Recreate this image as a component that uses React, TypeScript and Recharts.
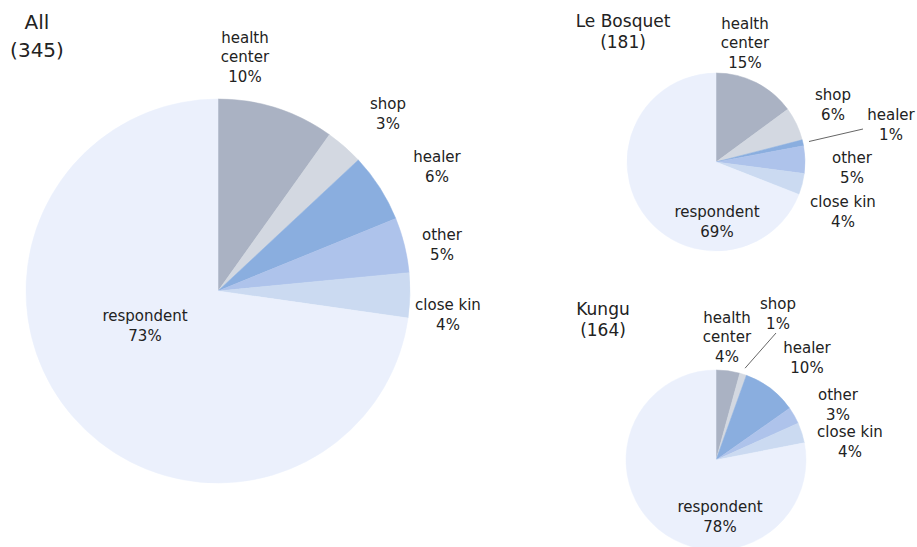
import React from 'react';
import { PieChart, Pie, Cell } from 'recharts';

// categories in drawing order (clockwise from 12 o'clock)
const categories = ['health center', 'shop', 'healer', 'other', 'close kin', 'respondent'];
const labelNames = [['health', 'center'], ['shop'], ['healer'], ['other'], ['close kin'], ['respondent']];

// estimated counts per source of advice
const allCounts = [34, 11, 20, 16, 13, 251];
const bosquetCounts = [27, 11, 2, 9, 7, 125];
const kunguCounts = [7, 2, 16, 5, 6, 128];

const colors = ['#aab2c3', '#d3d8e1', '#8aaedf', '#aec3eb', '#cbdaf1', '#ebf0fc'];

// label block centres, relative to each pie centre
const allLabelPos = [[27, -234], [170, -177], [219, -124], [224, -46], [230, 24], [-73, 35]];
const bosquetLabelPos = [[29, -119], [117, -57], [175, -37], [136, 6], [127, 50], [1, 60]];
const kunguLabelPos = [[11, -123], [62, -146], [91, -102], [122, -55], [134, -18], [4, 57]];

// leader line end points for the tiny slices
const bosquetLeaders = { 2: [147, -33] };
const kunguLeaders = { 1: [60, -127] };

const RADIAN = Math.PI / 180;
const FONT = '"DejaVu Sans", Verdana, sans-serif';
const LINE_H = 19.5;

const toRows = (counts: number[]) => categories.map((name, i) => ({ name, value: counts[i] }));

const makeLabel = (pos: number[][], leaders: Record<number, number[]>) => (props: any) => {
  const { cx, cy, index, percent, midAngle, outerRadius } = props;
  const [dx, dy] = pos[index];
  const lines = [...labelNames[index], `${Math.round(percent * 100)}%`];
  const x = cx + dx;
  const y0 = cy + dy - ((lines.length - 1) * LINE_H) / 2;
  const leader = leaders[index];
  let line = null;
  if (leader) {
    const r = outerRadius * 1.07;
    const sx = cx + r * Math.cos(-midAngle * RADIAN);
    const sy = cy + r * Math.sin(-midAngle * RADIAN);
    line = <line x1={sx} y1={sy} x2={cx + leader[0]} y2={cy + leader[1]} stroke="#666" strokeWidth={1} />;
  }
  return (
    <g>
      {line}
      <text x={x} y={y0} textAnchor="middle" dominantBaseline="central" fill="#222" fontSize={15} fontFamily={FONT}>
        {lines.map((t, i) => (
          <tspan key={i} x={x} y={y0 + i * LINE_H}>{t}</tspan>
        ))}
      </text>
    </g>
  );
};

const titleStyle = (cx: number, top: number, size: number, lh: number): React.CSSProperties => ({
  position: 'absolute',
  left: cx - 70,
  top,
  width: 140,
  textAlign: 'center',
  fontFamily: FONT,
  fontSize: size,
  lineHeight: `${lh}px`,
  color: '#222',
});

const App: React.FC = () => {
  const pies = [
    { key: 'all', data: toRows(allCounts), cx: 218, cy: 291, r: 192, label: makeLabel(allLabelPos, {}) },
    { key: 'bosquet', data: toRows(bosquetCounts), cx: 716, cy: 162, r: 89, label: makeLabel(bosquetLabelPos, bosquetLeaders) },
    { key: 'kungu', data: toRows(kunguCounts), cx: 716, cy: 460, r: 90, label: makeLabel(kunguLabelPos, kunguLeaders) },
  ];

  return (
    <div style={{ position: 'absolute', left: 0, top: 0, width: 917, height: 547, background: '#fff' }}>
      <PieChart width={917} height={547} margin={{ top: 0, right: 0, bottom: 0, left: 0 }}>
        {pies.map(p => (
          <Pie
            key={p.key}
            data={p.data}
            dataKey="value"
            nameKey="name"
            cx={p.cx}
            cy={p.cy}
            outerRadius={p.r}
            startAngle={90}
            endAngle={-270}
            label={p.label}
            labelLine={false}
            isAnimationActive={false}
          >
            {p.data.map((d, i) => (
              <Cell key={d.name} fill={colors[i]} stroke={colors[i]} strokeWidth={0.5} />
            ))}
          </Pie>
        ))}
      </PieChart>
      <div style={titleStyle(37, 8, 20, 28)}>All<br />(345)</div>
      <div style={titleStyle(623, 10.5, 17, 21)}>Le Bosquet<br />(181)</div>
      <div style={titleStyle(603, 298.5, 17, 21)}>Kungu<br />(164)</div>
    </div>
  );
};

export default App;
